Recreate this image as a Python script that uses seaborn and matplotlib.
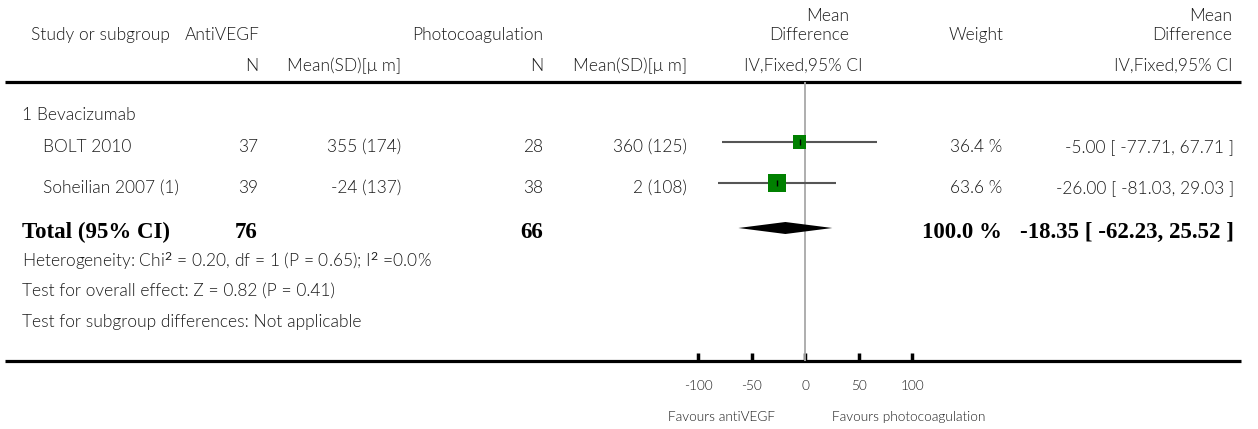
import matplotlib
matplotlib.use("Agg")
import matplotlib.pyplot as plt
import seaborn as sns
import pandas as pd

# ---------------- data ----------------
studies = ["BOLT 2010", "Soheilian 2007 (1)"]
n_anti = [37, 39]
mean_anti = [355, -24]
sd_anti = [174, 137]
n_photo = [28, 38]
mean_photo = [360, 2]
sd_photo = [125, 108]
md = [-5.00, -26.00]
ci_low = [-77.71, -81.03]
ci_high = [67.71, 29.03]
weight = [36.4, 63.6]
total_n_anti = 76
total_n_photo = 66
total_md = -18.35
total_low = -62.23
total_high = 25.52
total_weight = 100.0
x_ticks = [-100, -50, 0, 50, 100]
subgroup_label = "1 Bevacizumab"
heterogeneity = "Heterogeneity: Chi$^2$ = 0.20, df = 1 (P = 0.65); I$^2$ =0.0%"
overall_effect = "Test for overall effect: Z = 0.82 (P = 0.41)"
subgroup_diff = "Test for subgroup differences: Not applicable"
favours_left = "Favours antiVEGF"
favours_right = "Favours photocoagulation"

# ---------------- layout ----------------
W, H = 1258, 429
sns.set_theme(style="white")
plt.rcParams["font.family"] = ["Lato", "DejaVu Sans"]
plt.rcParams["mathtext.fontset"] = "custom"
plt.rcParams["mathtext.rm"] = "Lato"
plt.rcParams["mathtext.default"] = "rm"

TXT = "#1c1c1c"
FS = 12.5
SFS = 9.8
BFS = 16.5
FW = 300
SERIF = ["Liberation Serif", "DejaVu Serif"]

fig = plt.figure(figsize=(W / 100, H / 100), dpi=100)
ax = fig.add_axes([0, 0, 1, 1])
ax.set_xlim(0, W)
ax.set_ylim(H, 0)
ax.axis("off")

ZERO_PX = 805
PX_PER_UNIT = 1.07
F_LEFT, F_RIGHT = 690, 925
TOP_Y, BOT_Y = 82, 361

X_LEFT = 22
X_STUDY = 43
X_NA = 258
X_MA = 401
X_NP = 543
X_MP = 687
X_W = 1002
X_CI = 1234

Y_H0, Y_H1, Y_H2 = 16, 35, 66
Y_SUB = 115
ROW_Y = [147, 188]
Y_TOT = 232
Y_HET, Y_OV, Y_SD = 261, 291, 322
Y_FAV = 417
MARK_OFF = -5


def t(x, y, s, ha="left", **kw):
    kw.setdefault("fontsize", FS)
    kw.setdefault("color", TXT)
    kw.setdefault("fontweight", FW)
    ax.text(x, y, s, ha=ha, va="center", **kw)


# header
t(31, Y_H1, "Study or subgroup")
t(185, Y_H1, "AntiVEGF")
t(X_NP, Y_H1, "Photocoagulation", ha="right")
t(X_NA, Y_H2, "N", ha="right")
t(X_MA, Y_H2, "Mean(SD)[\u03bc m]", ha="right")
t(X_NP, Y_H2, "N", ha="right")
t(X_MP, Y_H2, "Mean(SD)[\u03bc m]", ha="right")
t(849, Y_H0, "Mean", ha="right")
t(849, Y_H1, "Difference", ha="right")
t(862, Y_H2, "IV,Fixed,95% CI", ha="right")
t(976, Y_H1, "Weight", ha="center")
t(1232, Y_H0, "Mean", ha="right")
t(1232, Y_H1, "Difference", ha="right")
t(1232, Y_H2, "IV,Fixed,95% CI", ha="right")

ax.hlines([TOP_Y, BOT_Y], 5, 1241, color="black", lw=2.3)

# rows
t(X_LEFT, Y_SUB, subgroup_label)
for i, name in enumerate(studies):
    y = ROW_Y[i]
    t(X_STUDY, y, name)
    t(X_NA, y, f"{n_anti[i]}", ha="right")
    t(X_MA, y, f"{mean_anti[i]} ({sd_anti[i]})", ha="right")
    t(X_NP, y, f"{n_photo[i]}", ha="right")
    t(X_MP, y, f"{mean_photo[i]} ({sd_photo[i]})", ha="right")
    t(X_W, y, f"{weight[i]:.1f} %", ha="right")
    t(X_CI, y, f"{md[i]:.2f} [ {ci_low[i]:.2f}, {ci_high[i]:.2f} ]", ha="right")

bold = dict(fontsize=BFS, fontweight="bold", family=SERIF, color="black")
t(X_LEFT, Y_TOT, "Total (95% CI)", **bold)
t(X_NA, Y_TOT, f"{total_n_anti}", ha="right", **bold)
t(X_NP, Y_TOT, f"{total_n_photo}", ha="right", **bold)
t(X_W, Y_TOT, f"{total_weight:.1f} %", ha="right", **bold)
t(X_CI, Y_TOT, f"{total_md:.2f} [ {total_low:.2f}, {total_high:.2f} ]", ha="right", **bold)

t(X_LEFT, Y_HET, heterogeneity)
t(X_LEFT, Y_OV, overall_effect)
t(X_LEFT, Y_SD, subgroup_diff)

t(775, Y_FAV, favours_left, ha="right", fontsize=SFS)
t(832, Y_FAV, favours_right, ha="left", fontsize=SFS)

# ---------------- forest axes ----------------
axf = fig.add_axes([F_LEFT / W, 1 - BOT_Y / H, (F_RIGHT - F_LEFT) / W, (BOT_Y - TOP_Y) / H])
axf.patch.set_alpha(0)
for s in axf.spines.values():
    s.set_visible(False)

df = pd.DataFrame({
    "md": md,
    "lo": ci_low,
    "hi": ci_high,
    "weight": weight,
    "y": [y + MARK_OFF for y in ROW_Y],
})

axf.axvline(0, color="#a8a8a8", lw=1.3, zorder=1)
axf.hlines(df["y"], df["lo"], df["hi"], color="#555555", lw=1.5, zorder=2)
K = 2.5
sns.scatterplot(data=df, x="md", y="y", size="weight",
                sizes=(min(weight) * K, max(weight) * K),
                size_norm=(min(weight), max(weight)),
                marker="s", color="#008000", linewidth=0, legend=False,
                ax=axf, zorder=3)
axf.scatter(df["md"], df["y"], marker="|", s=22, color="black", linewidths=1.0, zorder=4)

yd = Y_TOT - 4
hh = 6
axf.fill([total_low, total_md, total_high, total_md], [yd, yd - hh, yd, yd + hh],
         color="black", lw=0, zorder=3)

axf.set_xlim((F_LEFT - ZERO_PX) / PX_PER_UNIT, (F_RIGHT - ZERO_PX) / PX_PER_UNIT)
axf.set_ylim(BOT_Y, TOP_Y)
axf.set_xticks(x_ticks)
axf.set_xticklabels([str(v) for v in x_ticks], fontweight=FW)
axf.set_yticks([])
axf.set_xlabel("")
axf.set_ylabel("")
axf.tick_params(axis="x", direction="in", length=6, width=2.5, pad=13.5,
                labelsize=SFS, labelcolor=TXT, color="black", bottom=True)

fig.savefig("out.png", dpi=100)
